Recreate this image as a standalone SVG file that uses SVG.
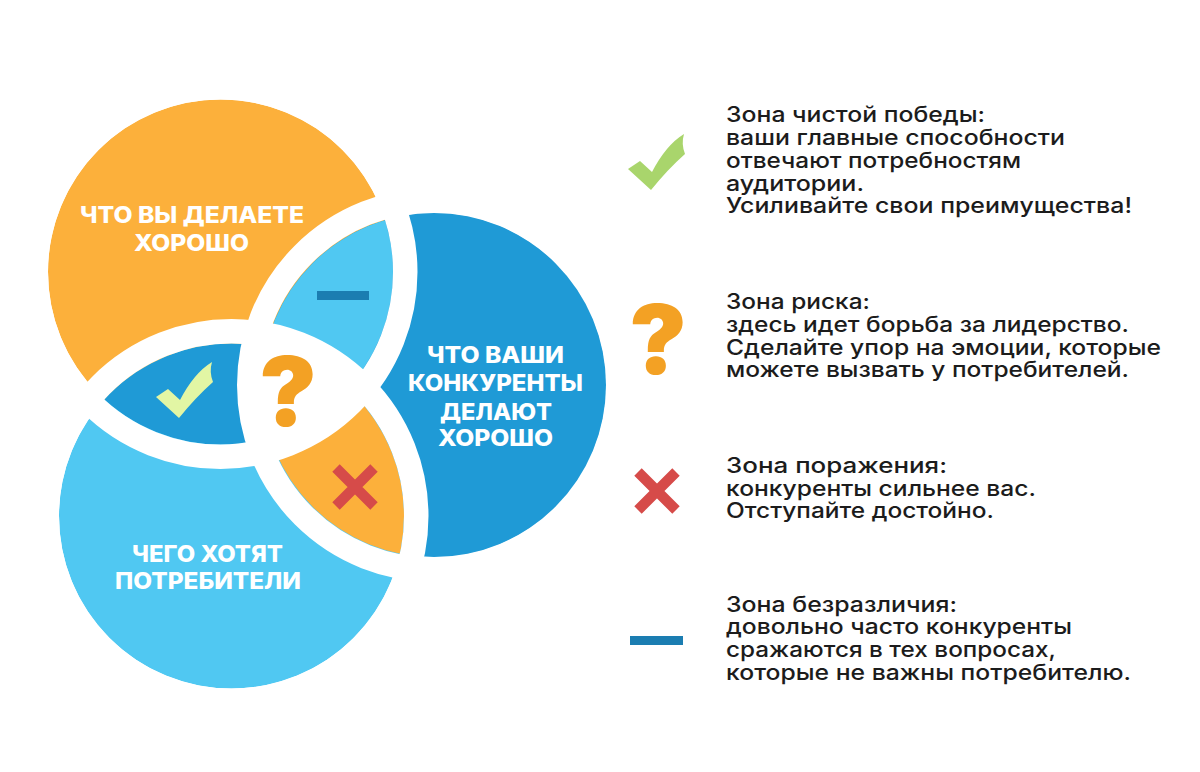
<svg xmlns="http://www.w3.org/2000/svg" xmlns:xlink="http://www.w3.org/1999/xlink" width="1200" height="772" viewBox="0 0 1200 772">
<style>
.h{font-family:Inter,"DejaVu Sans",sans-serif;font-weight:800;font-size:22.5px;fill:#fff}
.t{font-family:Inter,"DejaVu Sans",sans-serif;font-weight:500;font-size:21.5px;fill:#1c1c1c}
.q{font-family:Inter,"DejaVu Sans",sans-serif;font-weight:900;font-size:96px;fill:#f3a124}
.ring{fill:none;stroke:#fff;stroke-width:24.5}
</style>
<defs>
<clipPath id="cO"><circle cx="220.5" cy="272" r="172.5"/></clipPath>
<clipPath id="cB"><circle cx="434" cy="385" r="172"/></clipPath>
<clipPath id="cO2"><circle cx="220.5" cy="272" r="175"/></clipPath>
<clipPath id="cB2"><circle cx="434" cy="385" r="175"/></clipPath>
<path id="chk" d="M-24 -20 L-12 -28 L0 -17 Q14 -44 32 -55 Q29 -45 33 -35 Q16 -20 -1 1 Z"/>
</defs>
<rect width="1200" height="772" fill="#fff"/>
<g id="venn-circles">
<circle id="circle-orange" cx="220.5" cy="272" r="172.5" fill="#fcb03b"/>
<circle id="circle-blue" cx="434" cy="385" r="172" fill="#1f9ad6"/>
<circle id="circle-light" cx="231.5" cy="516" r="172.5" fill="#50c8f2"/>
<g clip-path="url(#cO)"><circle id="zone-indifference" cx="434" cy="385" r="172" fill="#50c8f2"/></g>
<g clip-path="url(#cO)"><circle id="zone-win" cx="231.5" cy="516" r="172.5" fill="#1f9ad6"/></g>
<g clip-path="url(#cB)"><circle id="zone-loss" cx="231.5" cy="516" r="172.5" fill="#fcb03b"/></g>
<g clip-path="url(#cO2)"><g clip-path="url(#cB2)"><circle id="zone-risk" cx="231.5" cy="516" r="175" fill="#fff"/></g></g>
<circle class="ring" cx="220.5" cy="272" r="184.75"/>
<circle class="ring" cx="434" cy="385" r="184.75"/>
<circle class="ring" cx="231.5" cy="516" r="184.75"/>
</g>
<g id="venn-labels">
<text class="h" x="80" y="223" textLength="224" lengthAdjust="spacingAndGlyphs">ЧТО ВЫ ДЕЛАЕТЕ</text>
<text class="h" x="134" y="251" textLength="115" lengthAdjust="spacingAndGlyphs">ХОРОШО</text>
<text class="h" x="427" y="363" textLength="137" lengthAdjust="spacingAndGlyphs">ЧТО ВАШИ</text>
<text class="h" x="408" y="391" textLength="175" lengthAdjust="spacingAndGlyphs">КОНКУРЕНТЫ</text>
<text class="h" x="440" y="420" textLength="112" lengthAdjust="spacingAndGlyphs">ДЕЛАЮТ</text>
<text class="h" x="438" y="446" textLength="115" lengthAdjust="spacingAndGlyphs">ХОРОШО</text>
<text class="h" x="132" y="562" textLength="151" lengthAdjust="spacingAndGlyphs">ЧЕГО ХОТЯТ</text>
<text class="h" x="115" y="589" textLength="186" lengthAdjust="spacingAndGlyphs">ПОТРЕБИТЕЛИ</text>
</g>
<g id="venn-icons">
<use xlink:href="#chk" href="#chk" transform="translate(180 417)" fill="#e2f6a4"/>
<text class="q" x="288" y="426" text-anchor="middle">?</text>
<path d="M336 468 L374 506 M374 468 L336 506" stroke="#d64b49" stroke-width="10.5" fill="none"/>
<rect x="317" y="291" width="52" height="9" fill="#1b7db1"/>
</g>
<g id="legend-win">
<use xlink:href="#chk" href="#chk" transform="translate(652 189)" fill="#a9d56c"/>
<text class="t" x="726" y="122" textLength="259" lengthAdjust="spacingAndGlyphs">Зона чистой победы:</text>
<text class="t" x="726" y="145" textLength="339" lengthAdjust="spacingAndGlyphs">ваши главные способности</text>
<text class="t" x="726" y="168" textLength="295" lengthAdjust="spacingAndGlyphs">отвечают потребностям</text>
<text class="t" x="726" y="191" textLength="138" lengthAdjust="spacingAndGlyphs">аудитории.</text>
<text class="t" x="726" y="213" textLength="406" lengthAdjust="spacingAndGlyphs">Усиливайте свои преимущества!</text>
</g>
<g id="legend-risk">
<text class="q" x="658" y="374" text-anchor="middle">?</text>
<text class="t" x="726" y="309" textLength="144" lengthAdjust="spacingAndGlyphs">Зона риска:</text>
<text class="t" x="726" y="332" textLength="403" lengthAdjust="spacingAndGlyphs">здесь идет борьба за лидерство.</text>
<text class="t" x="726" y="355" textLength="435" lengthAdjust="spacingAndGlyphs">Сделайте упор на эмоции, которые</text>
<text class="t" x="726" y="377" textLength="403" lengthAdjust="spacingAndGlyphs">можете вызвать у потребителей.</text>
</g>
<g id="legend-loss">
<path d="M638 472 L676 510 M676 472 L638 510" stroke="#d64b49" stroke-width="10.5" fill="none"/>
<text class="t" x="726" y="473" textLength="221" lengthAdjust="spacingAndGlyphs">Зона поражения:</text>
<text class="t" x="726" y="496" textLength="310" lengthAdjust="spacingAndGlyphs">конкуренты сильнее вас.</text>
<text class="t" x="726" y="518" textLength="268" lengthAdjust="spacingAndGlyphs">Отступайте достойно.</text>
</g>
<g id="legend-indifference">
<rect x="630" y="636" width="53" height="9" fill="#1b7db1"/>
<text class="t" x="726" y="612" textLength="231" lengthAdjust="spacingAndGlyphs">Зона безразличия:</text>
<text class="t" x="726" y="634" textLength="346" lengthAdjust="spacingAndGlyphs">довольно часто конкуренты</text>
<text class="t" x="726" y="657" textLength="330" lengthAdjust="spacingAndGlyphs">сражаются в тех вопросах,</text>
<text class="t" x="726" y="680" textLength="405" lengthAdjust="spacingAndGlyphs">которые не важны потребителю.</text>
</g>
</svg>
